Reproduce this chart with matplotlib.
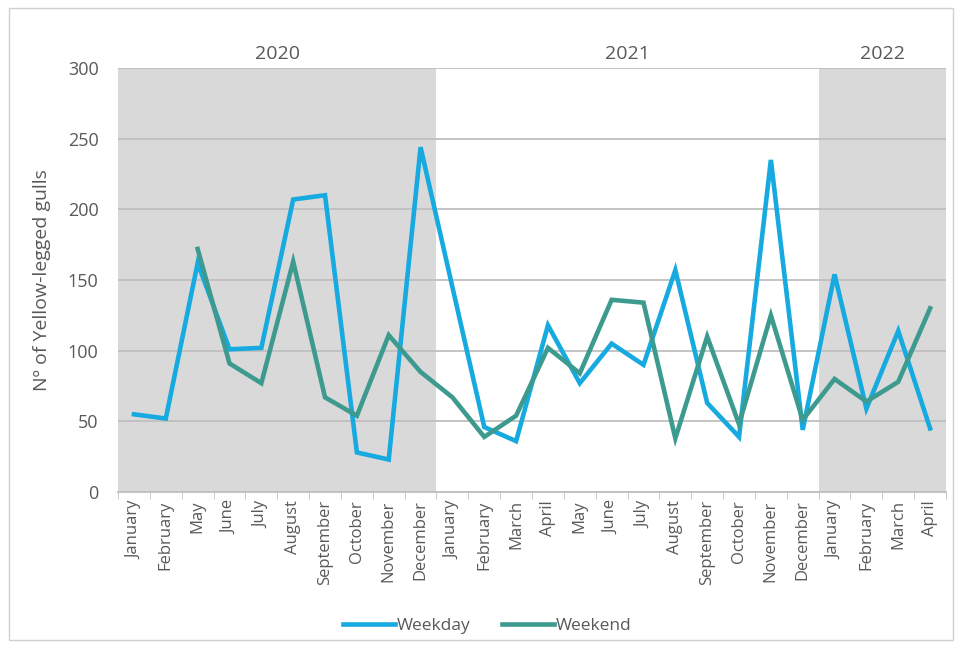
import matplotlib.pyplot as plt
import numpy as np
from matplotlib.patches import Rectangle

# Months shown on the x axis (2020 has no March/April)
months = ['January', 'February', 'May', 'June', 'July', 'August', 'September',
          'October', 'November', 'December',
          'January', 'February', 'March', 'April', 'May', 'June', 'July',
          'August', 'September', 'October', 'November', 'December',
          'January', 'February', 'March', 'April']
years = ['2020', '2021', '2022']
months_per_year = [10, 12, 4]

# Number of gulls counted
weekday = [55, 52, 162, 101, 102, 207, 210, 28, 23, 244,
           145, 46, 36, 118, 77, 105, 90, 157, 63, 39, 235, 44,
           154, 59, 114, 45]
weekend = [np.nan, np.nan, 172, 91, 77, 163, 67, 54, 111, 85,
           67, 39, 54, 102, 84, 136, 134, 38, 110, 48, 125, 51,
           80, 64, 78, 130]

text_col = '#595959'
plt.rcParams['font.family'] = ['Open Sans', 'DejaVu Sans']

fig = plt.figure(figsize=(9.55, 6.48), dpi=100)
ax = fig.add_axes([0.1236, 0.2407, 0.8670, 0.6543])

# outer chart border
fig.patches.append(Rectangle((0.009, 0.012), 0.989, 0.975, transform=fig.transFigure,
                             fill=False, edgecolor='#D0D0D0', linewidth=1))

x = np.arange(len(months))

# shade alternate years
start = -0.5
for i, (yr, n) in enumerate(zip(years, months_per_year)):
    if i % 2 == 0:
        ax.axvspan(start, start + n, color='#D9D9D9', zorder=0, linewidth=0)
    ax.text(start + n / 2, 1.012, yr, transform=ax.get_xaxis_transform(),
            ha='center', va='bottom', fontsize=14, color=text_col)
    start += n

ax.plot(x, weekday, color='#16AAE0', linewidth=3.3, label='Weekday', zorder=3,
        solid_joinstyle='miter')
ax.plot(x, weekend, color='#3D9A8F', linewidth=3.3, label='Weekend', zorder=4,
        solid_joinstyle='miter')

ax.set_xlim(-0.5, len(months) - 0.5)
ax.set_ylim(0, 300)
ax.set_yticks(np.arange(0, 301, 50))
ax.yaxis.grid(True, color='#BFBFBF', linewidth=1.3, zorder=1)
ax.set_axisbelow(False)
for ln in ax.get_ygridlines():
    ln.set_zorder(1)

ax.set_xticks(x)
ax.set_xticklabels(months, rotation=90, fontsize=12, color=text_col)
ax.set_xticks(np.arange(-0.5, len(months), 1), minor=True)
ax.tick_params(axis='x', which='major', length=0, pad=6)
ax.tick_params(axis='x', which='minor', length=5, color='#BFBFBF')
ax.tick_params(axis='y', length=0, labelsize=13, labelcolor=text_col, pad=14)

for side in ['top', 'right', 'left']:
    ax.spines[side].set_visible(False)
ax.spines['bottom'].set_color('#BFBFBF')
ax.spines['bottom'].set_linewidth(1.3)

ax.set_ylabel('Nº of Yellow-legged gulls', fontsize=14, color=text_col, labelpad=12)

fig.legend(loc='lower center', bbox_to_anchor=(0.51, -0.002), ncol=2, frameon=False,
           fontsize=12.5, handlelength=3.0, handletextpad=0.1, columnspacing=1.8,
           labelcolor=text_col)

fig.savefig('out.png', dpi=100)
